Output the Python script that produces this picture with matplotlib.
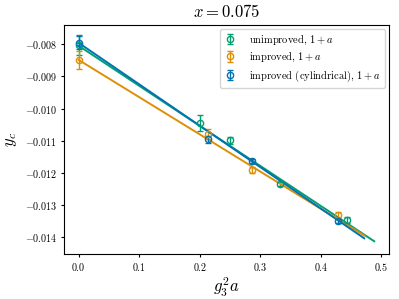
import numpy as np
import matplotlib
matplotlib.use("Agg")
import matplotlib.pyplot as plt

plt.rcParams['font.family'] = 'serif'
plt.rcParams['font.serif'] = ['cmr10']
plt.rcParams['mathtext.fontset'] = 'cm'
plt.rcParams['axes.formatter.use_mathtext'] = True

# data
labels = [r'unimproved, $1+a$', r'improved, $1+a$', r'improved (cylindrical), $1+a$']
colors = ['#029e73', '#de8f05', '#0173b2']

x_unimp = [0.0, 0.200, 0.250, 0.333, 0.444]
y_unimp = [-0.00803, -0.01045, -0.01099, -0.01235, -0.01346]
e_unimp = [0.00030, 0.00025, 0.00010, 0.00006, 0.00008]

x_imp = [0.0, 0.214, 0.286, 0.429]
y_imp = [-0.00849, -0.01078, -0.01191, -0.01331]
e_imp = [0.00028, 0.00015, 0.00010, 0.00010]

x_cyl = [0.0, 0.214, 0.286, 0.429]
y_cyl = [-0.00796, -0.01096, -0.01163, -0.01349]
e_cyl = [0.00020, 0.00010, 0.00005, 0.00006]

# linear fits (intercept, slope)
fit_unimp = [-0.00805, -0.01243]
fit_imp = [-0.00849, -0.01155]
fit_cyl = [-0.00796, -0.01286]

series = [(x_unimp, y_unimp, e_unimp, fit_unimp),
          (x_imp, y_imp, e_imp, fit_imp),
          (x_cyl, y_cyl, e_cyl, fit_cyl)]

fig = plt.figure(figsize=(3.99, 2.99), dpi=100)
ax = fig.add_axes([0.16, 0.15, 0.815, 0.766])

for (xs, ys, es, fit), lab, c in zip(series, labels, colors):
    ax.errorbar(xs, ys, yerr=es, fmt='o', mfc='none', ms=4.5, mew=1,
                capsize=2, elinewidth=1, color=c, label=lab)
    xf = np.linspace(0, 1.1 * max(xs), 50)
    ax.plot(xf, fit[0] + fit[1] * xf, color=c, lw=1.4)

ax.set_ylim(-0.01452, -0.00741)
ax.set_title(r'$x = 0.075$', fontsize=12)
ax.set_xlabel(r'$g_3^2 a$', fontsize=12, labelpad=2)
ax.set_ylabel(r'$y_c$', fontsize=12, labelpad=4)
ax.tick_params(labelsize=7.2, length=2.5, pad=2.5)
ax.legend(loc='upper right', fontsize=7.5, labelspacing=0.4,
          handlelength=1.2, handletextpad=1.2, borderaxespad=0.4)

fig.savefig('out.png', dpi=100)
